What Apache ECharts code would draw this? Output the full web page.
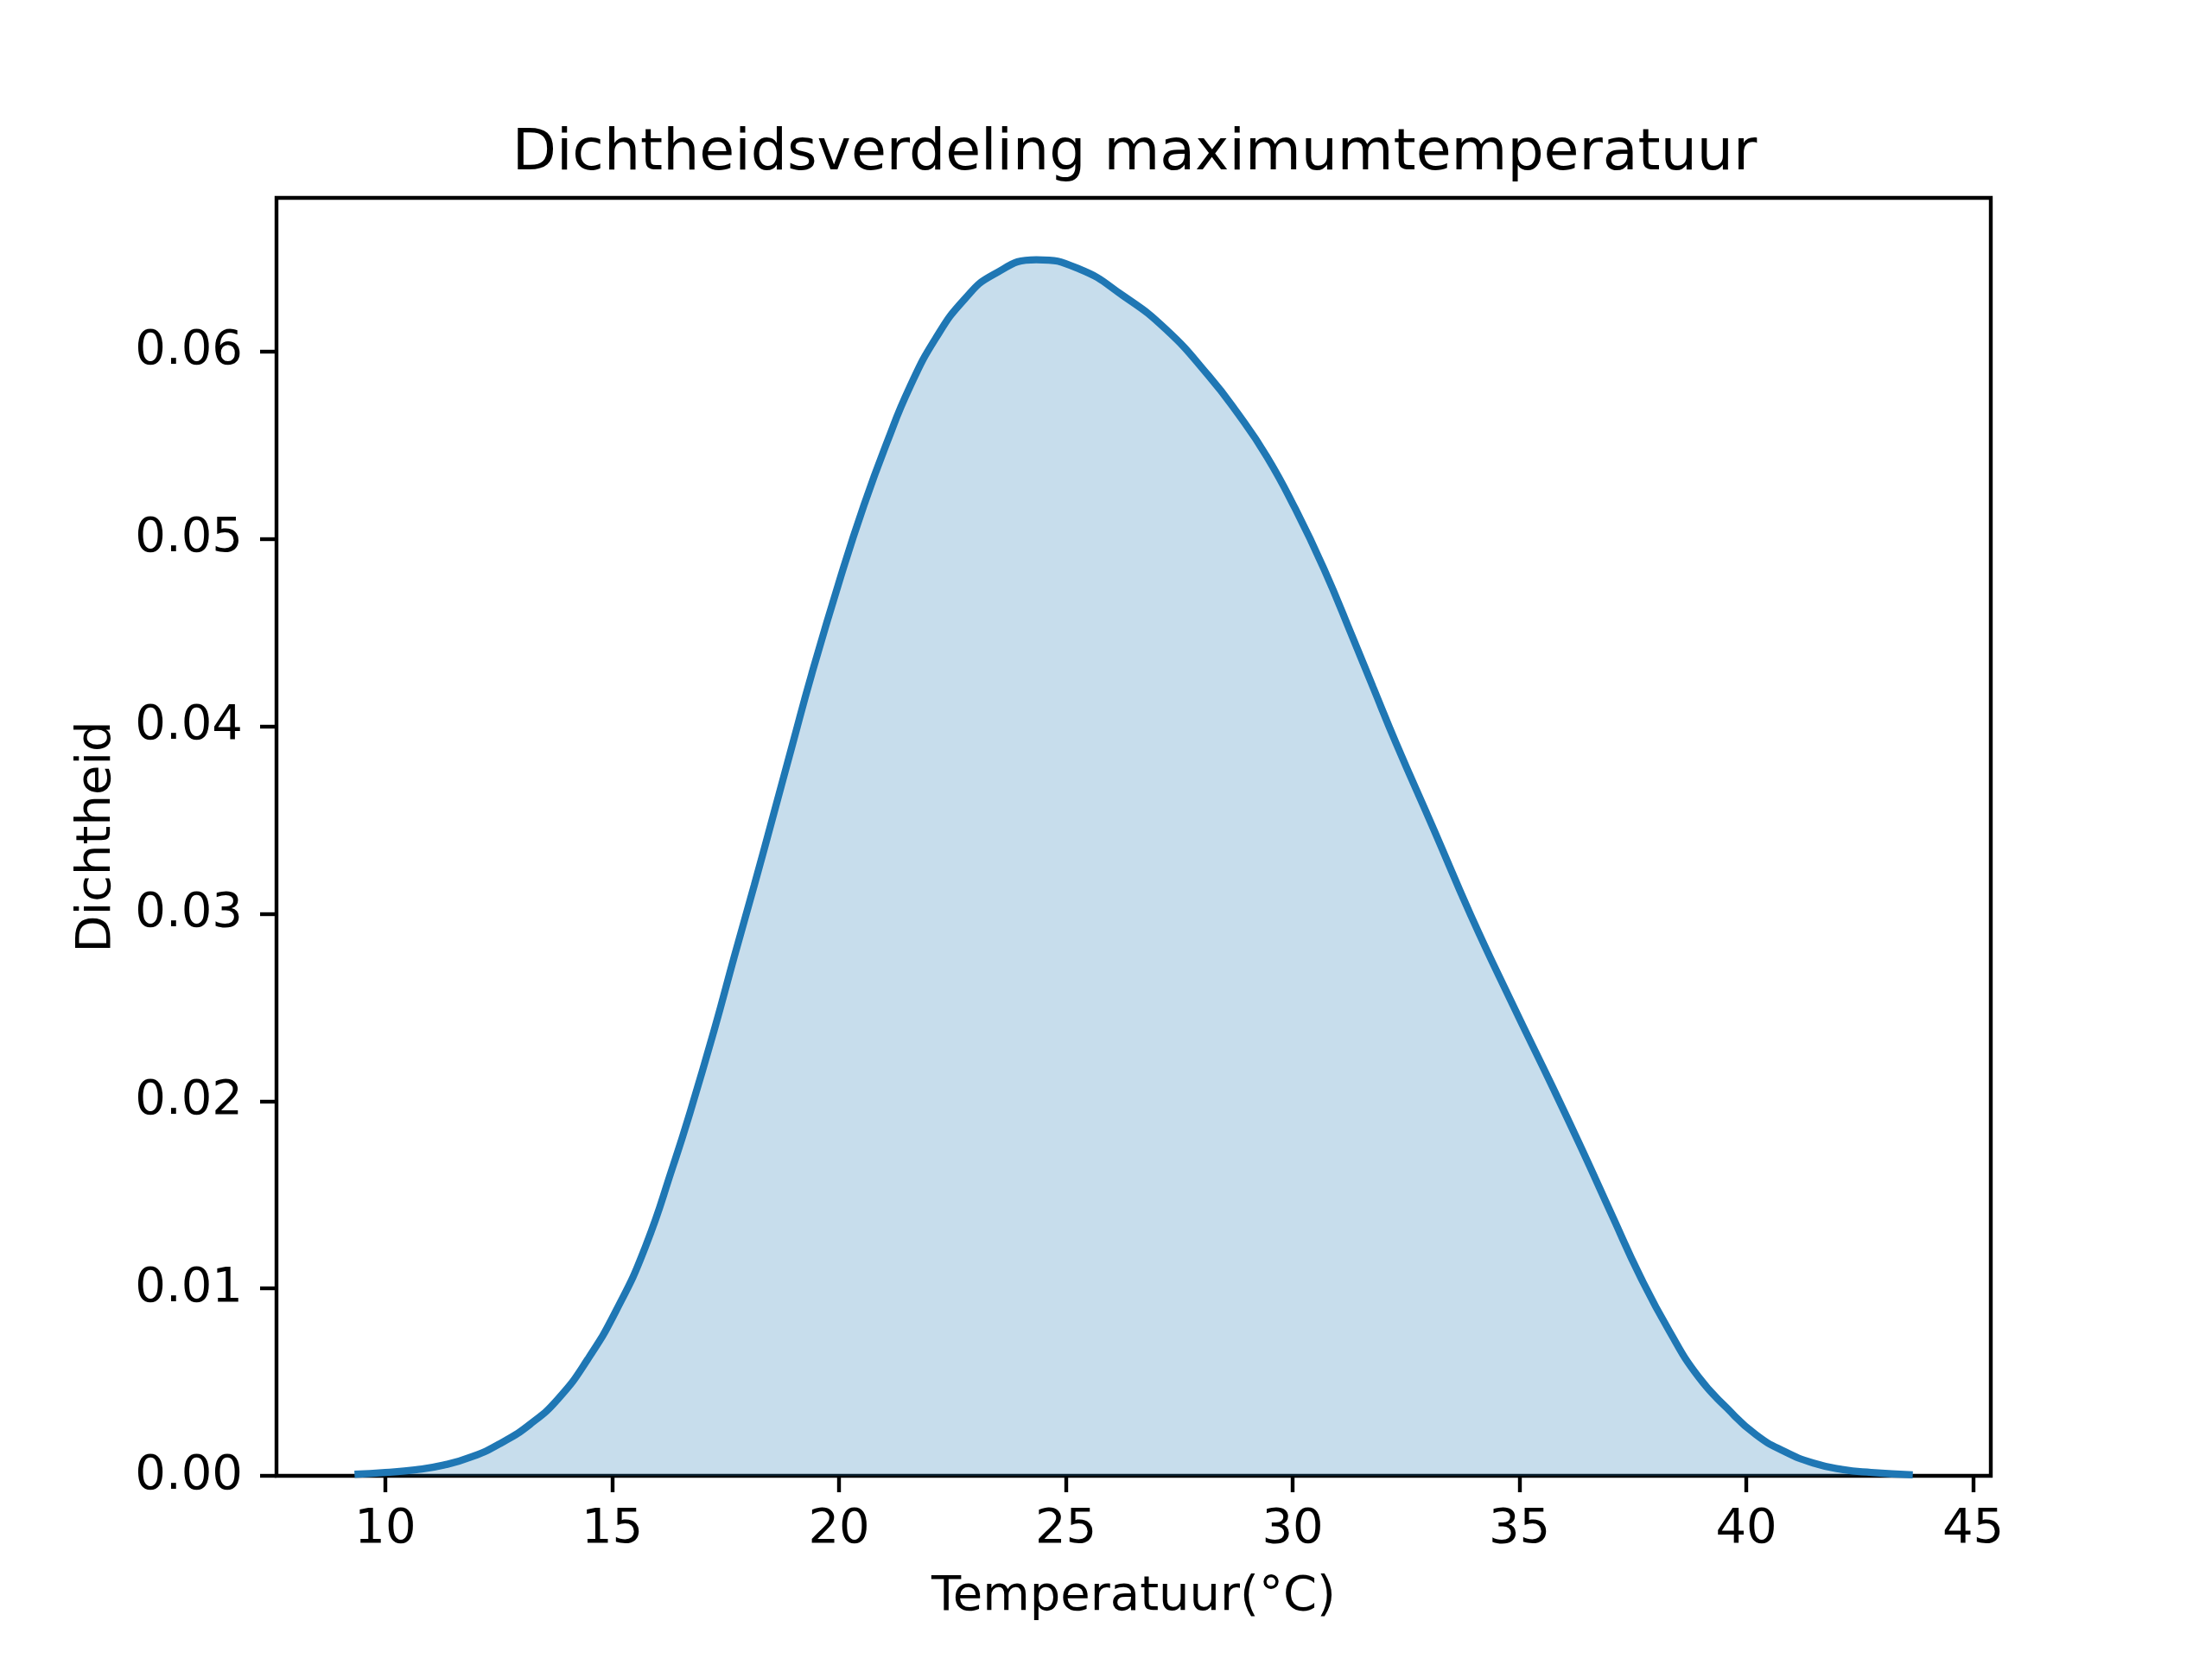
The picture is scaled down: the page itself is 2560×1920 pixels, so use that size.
<!DOCTYPE html>
<html>
<head>
<meta charset="utf-8">
<script src="https://cdn.jsdelivr.net/npm/echarts@6/dist/echarts.min.js"></script>
<style>
html,body{margin:0;padding:0;background:#fff;}
#chart{width:2560px;height:1920px;}
</style>
</head>
<body>
<div id="chart"></div>
<script>
// Temperature (°C) sample positions
var temps = [9.32, 10.0, 10.65, 11.28, 11.92, 12.55, 13.19, 13.82, 14.46, 15.09, 15.73, 16.36, 16.68,
  17.25, 17.69, 18.13, 18.58, 18.96, 19.40, 20.04, 20.55, 21.05, 21.56, 22.13, 22.77, 23.40, 24.35,
  25.30, 26.25, 27.20, 28.15, 28.79, 29.43, 30.06, 30.69, 31.33, 31.77, 32.28, 33.11, 33.93, 34.82,
  35.74, 36.40, 37.04, 37.67, 38.31, 38.94, 39.58, 40.21, 40.84, 41.48, 42.11, 42.75, 43.67];
// Density values at those positions
var density = [0.00008, 0.00018, 0.00032, 0.00057, 0.00103, 0.00175, 0.00275, 0.00414, 0.00622, 0.00883, 0.01221, 0.01667, 0.0191,
  0.0238, 0.0277, 0.0315, 0.0355, 0.0389, 0.0428, 0.0480, 0.0518, 0.0551, 0.0581, 0.0607, 0.0628, 0.0641, 0.0649,
  0.0644, 0.0630, 0.0612, 0.0587, 0.0567, 0.0544, 0.0516, 0.0484, 0.0447, 0.0421, 0.0391, 0.0345, 0.0299, 0.0253,
  0.0207, 0.0173, 0.0139, 0.0106, 0.0077, 0.0053, 0.0036, 0.0022, 0.0013, 0.00068, 0.00034, 0.00018, 0.00005];
var xTicks = [10, 15, 20, 25, 30, 35, 40, 45];
var yTicks = [0, 0.01, 0.02, 0.03, 0.04, 0.05, 0.06];
var titleText = 'Dichtheidsverdeling maximumtemperatuur';
var xName = 'Temperatuur(°C)';
var yName = 'Dichtheid';

var points = temps.map(function (t, i) { return [t, density[i]]; });
var FONT = 'DejaVu Sans';

var chart = echarts.init(document.getElementById('chart'), null, {renderer: 'canvas'});
chart.setOption({
  animation: false,
  backgroundColor: '#ffffff',
  title: {
    text: titleText,
    left: 1308,
    top: 140,
    textAlign: 'center',
    textStyle: {fontFamily: FONT, fontSize: 66.5, fontWeight: 'normal', color: '#000'}
  },
  grid: {
    left: 320, right: 256, top: 229, bottom: 212,
    show: true, borderColor: '#000', borderWidth: 4.4, backgroundColor: 'transparent',
    containLabel: false
  },
  xAxis: {
    type: 'value',
    min: 7.60, max: 45.39,
    name: xName,
    nameLocation: 'middle',
    nameGap: 112,
    nameTextStyle: {fontFamily: FONT, fontSize: 56, color: '#000'},
    axisLine: {show: false},
    splitLine: {show: false},
    axisTick: {show: true, inside: false, length: 19, lineStyle: {color: '#000', width: 4.4}, customValues: xTicks},
    axisLabel: {show: true, margin: 34, fontFamily: FONT, fontSize: 56, color: '#000', customValues: xTicks,
      formatter: function (v) { return String(v); }}
  },
  yAxis: {
    type: 'value',
    min: 0, max: 0.0682,
    name: yName,
    nameLocation: 'middle',
    nameGap: 180,
    nameRotate: 90,
    nameTextStyle: {fontFamily: FONT, fontSize: 56, color: '#000'},
    axisLine: {show: false},
    splitLine: {show: false},
    axisTick: {show: true, inside: false, length: 19, lineStyle: {color: '#000', width: 4.4}, customValues: yTicks},
    axisLabel: {show: true, margin: 39, fontFamily: FONT, fontSize: 56, color: '#000', customValues: yTicks,
      formatter: function (v) { return v.toFixed(2); }}
  },
  series: [{
    type: 'line',
    data: points,
    showSymbol: false,
    smooth: 0.5,
    lineStyle: {color: '#1f77b4', width: 8.3},
    itemStyle: {color: '#1f77b4'},
    areaStyle: {color: '#1f77b4', opacity: 0.25, origin: 'start'},
    z: 1
  }]
});
</script>
</body>
</html>
